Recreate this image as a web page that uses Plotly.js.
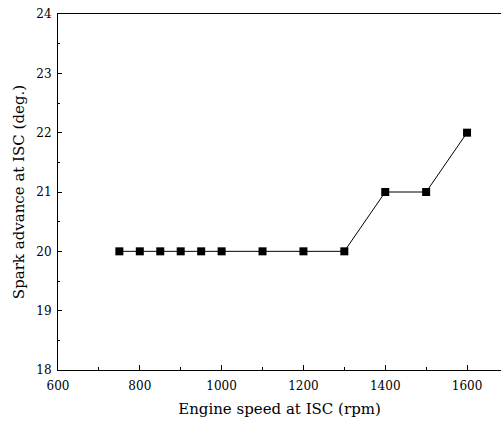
<!DOCTYPE html>
<html><head><meta charset="utf-8">
<script src="https://cdn.plot.ly/plotly-3.0.1.min.js"></script>
<style>html,body{margin:0;padding:0;background:#fff}</style>
</head><body><div id="chart" style="width:501px;height:425px"></div>
<script>
const engineSpeed = [750, 800, 850, 900, 950, 1000, 1100, 1200, 1300, 1400, 1500, 1600];
const sparkAdvance = [20, 20, 20, 20, 20, 20, 20, 20, 20, 21, 21, 22];
const xTicks = [600, 800, 1000, 1200, 1400, 1600];
const yTicks = [18, 19, 20, 21, 22, 23, 24];

const font = {family: '"DejaVu Serif", "Liberation Serif", serif', color: '#000'};
Plotly.newPlot('chart', [{
  x: engineSpeed, y: sparkAdvance, type: 'scatter', mode: 'lines+markers',
  line: {color: '#000', width: 1},
  marker: {symbol: 'square', size: 8, color: '#000'},
  showlegend: false
}], {
  width: 501, height: 425,
  margin: {l: 58, r: 0, t: 14, b: 55},
  paper_bgcolor: '#fff', plot_bgcolor: '#fff',
  font: font,
  xaxis: {
    range: [600, 1683], tickvals: xTicks, ticktext: xTicks.map(String),
    ticks: 'inside', ticklen: 5, tickwidth: 1, tickcolor: '#000',
    minor: {dtick: 100, ticks: 'inside', ticklen: 3, tickcolor: '#000'},
    showline: true, linecolor: '#000', linewidth: 1, mirror: true,
    showgrid: false, zeroline: false, ticklabelstandoff: 5,
    tickfont: {family: font.family, size: 12, color: '#000'},
    title: {text: 'Engine speed at ISC (rpm)', font: {family: font.family, size: 15, color: '#000'}, standoff: 11}
  },
  yaxis: {
    range: [18, 24], tickvals: yTicks, ticktext: yTicks.map(String),
    ticks: 'inside', ticklen: 4, tickwidth: 1, tickcolor: '#000',
    minor: {dtick: 0.5, ticks: 'inside', ticklen: 2, tickcolor: '#000'},
    showline: true, linecolor: '#000', linewidth: 1, mirror: true,
    showgrid: false, zeroline: false, ticklabelstandoff: 3,
    tickfont: {family: font.family, size: 12, color: '#000'},
    title: {text: 'Spark advance at ISC (deg.)', font: {family: font.family, size: 15, color: '#000'}, standoff: 8}
  }
}, {displayModeBar: false, staticPlot: true});
</script></body></html>
